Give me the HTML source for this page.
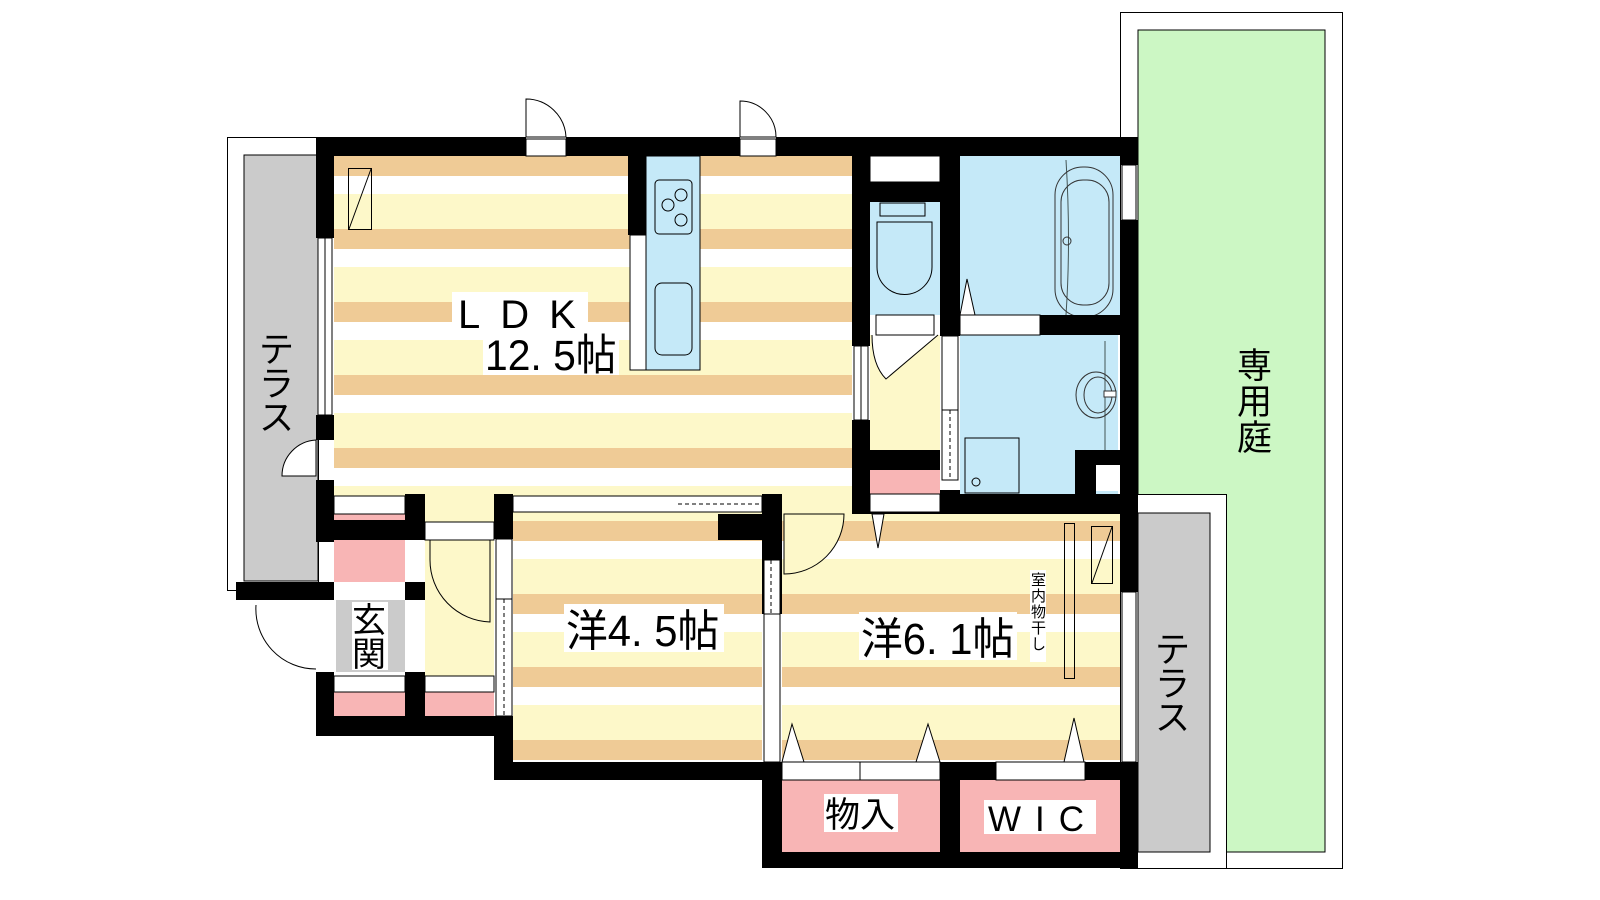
<!DOCTYPE html>
<html><head><meta charset="utf-8"><style>
html,body{margin:0;padding:0;background:#fff;width:1600px;height:900px;overflow:hidden}
text{font-family:"Liberation Sans","Noto Sans CJK JP",sans-serif;fill:#000}
</style></head><body>
<svg width="1600" height="900" viewBox="0 0 1600 900" xmlns="http://www.w3.org/2000/svg">
<defs>
<pattern id="st" patternUnits="userSpaceOnUse" x="0" y="156" width="10" height="73">
<rect width="10" height="73" fill="#fdf8c9"/>
<rect width="10" height="20" fill="#efcb96"/>
<rect y="20" width="10" height="18" fill="#fff"/>
</pattern>
</defs>
<rect x="1120.5" y="12.5" width="222" height="856" fill="#fff" stroke="#000"/>
<rect x="1138" y="30" width="187" height="822" fill="#ccf7c4" stroke="#000"/>
<rect x="1120.5" y="494.5" width="106" height="374" fill="#fff" stroke="#000"/>
<rect x="1138" y="513" width="72" height="339" fill="#cbcbcb" stroke="#000"/>
<rect x="227.5" y="137.5" width="91" height="453" fill="#fff" stroke="#000"/>
<rect x="244" y="155" width="74" height="426" fill="#cbcbcb" stroke="#000"/>
<rect x="334" y="156" width="518" height="364" fill="url(#st)"/>
<rect x="513" y="514" width="249" height="248" fill="url(#st)"/>
<rect x="782" y="514" width="338" height="248" fill="url(#st)"/>
<rect x="870" y="335" width="70" height="115" fill="#fdf8c9"/>
<rect x="425" y="520" width="69" height="196" fill="#fdf8c9"/>
<rect x="870" y="470" width="70" height="24" fill="#f8b5b5"/>
<rect x="334" y="540" width="71" height="42" fill="#f8b5b5"/>
<rect x="334" y="692" width="71" height="24" fill="#f8b5b5"/>
<rect x="425" y="692" width="69" height="24" fill="#f8b5b5"/>
<rect x="334" y="514" width="71" height="8" fill="#f8b5b5"/>
<rect x="336" y="600" width="69" height="72" fill="#cbcbcb"/>
<rect x="782" y="780" width="158" height="72" fill="#f8b5b5"/>
<rect x="960" y="780" width="160" height="72" fill="#f8b5b5"/>
<rect x="870" y="202" width="70" height="113" fill="#c5e9f8"/>
<rect x="960" y="156" width="160" height="159" fill="#c5e9f8"/>
<rect x="960" y="335" width="158" height="159" fill="#c5e9f8"/>
<rect x="646" y="156" width="54" height="214" fill="#c5e9f8" stroke="#000"/>
<rect x="630" y="235" width="16" height="135" fill="#fff" stroke="#000"/>
<rect x="655" y="180" width="37" height="54" rx="4" fill="none" stroke="#000"/>
<circle cx="668" cy="205" r="6" fill="none" stroke="#000"/>
<circle cx="681" cy="195" r="6" fill="none" stroke="#000"/>
<circle cx="681" cy="220" r="6" fill="none" stroke="#000"/>
<rect x="655" y="283" width="37" height="72" rx="7" fill="none" stroke="#000"/>
<rect x="348.5" y="168.5" width="23" height="61" fill="none" stroke="#000"/>
<line x1="349" y1="229" x2="371" y2="169" stroke="#000"/>
<path d="M880 203h45v13h-45z" fill="none" stroke="#000"/>
<path d="M877 222h55v45a27 27 0 0 1 -55 0z" fill="none" stroke="#000"/>
<path d="M1066 160 q5 80 0 155" fill="none" stroke="#455"/>
<rect x="1055" y="167" width="58" height="150" rx="28" fill="none" stroke="#333"/>
<rect x="1061" y="180" width="48" height="125" rx="22" fill="none" stroke="#333"/>
<circle cx="1067" cy="241" r="4" fill="none" stroke="#333"/>
<path d="M960 315 l7 -36 l8 36z" fill="#fff" stroke="#000"/>
<line x1="1105" y1="341" x2="1105" y2="460" stroke="#455"/>
<ellipse cx="1096" cy="395" rx="20" ry="23" fill="none" stroke="#333"/>
<ellipse cx="1098" cy="395" rx="14" ry="18" fill="none" stroke="#333"/>
<rect x="1104" y="391" width="12" height="6" fill="#fff" stroke="#333"/>
<rect x="965" y="438" width="54" height="55" fill="none" stroke="#000"/>
<circle cx="976" cy="482" r="4" fill="none" stroke="#000"/>
<rect x="1096" y="465" width="22" height="26" fill="#fff"/>
<path d="M872 335 q0 30 14 44 l52 -44" fill="#fff" stroke="#000"/>
<g fill="#000">
<rect x="316" y="137" width="210" height="19"/>
<rect x="566" y="137" width="174" height="19"/>
<rect x="776" y="137" width="362" height="19"/>
<rect x="316" y="137" width="18" height="101"/>
<rect x="316" y="415" width="18" height="25"/>
<rect x="316" y="480" width="18" height="62"/>
<rect x="236" y="582" width="98" height="18"/>
<rect x="316" y="672" width="18" height="64"/>
<rect x="316" y="716" width="197" height="20"/>
<rect x="316" y="520" width="109" height="20"/>
<rect x="405" y="494" width="20" height="46"/>
<rect x="405" y="582" width="20" height="18"/>
<rect x="405" y="672" width="20" height="48"/>
<rect x="494" y="494" width="19" height="45"/>
<rect x="494" y="716" width="19" height="64"/>
<rect x="494" y="762" width="288" height="18"/>
<rect x="762" y="494" width="20" height="120"/>
<rect x="718" y="514" width="44" height="26"/>
<rect x="762" y="494" width="20" height="20"/>
<rect x="762" y="762" width="20" height="106"/>
<rect x="762" y="852" width="376" height="16"/>
<rect x="940" y="762" width="20" height="106"/>
<rect x="960" y="762" width="36" height="18"/>
<rect x="1085" y="762" width="53" height="18"/>
<rect x="628" y="156" width="18" height="79"/>
<rect x="852" y="156" width="18" height="190"/>
<rect x="852" y="420" width="18" height="94"/>
<rect x="852" y="494" width="286" height="20"/>
<rect x="870" y="182" width="70" height="20"/>
<rect x="940" y="156" width="20" height="180"/>
<rect x="1040" y="315" width="80" height="20"/>
<rect x="870" y="450" width="70" height="20"/>
<rect x="940" y="490" width="20" height="24"/>
<rect x="1075" y="450" width="45" height="15"/>
<rect x="1075" y="450" width="21" height="44"/>
<rect x="1120" y="137" width="18" height="28"/>
<rect x="1120" y="220" width="18" height="372"/>
<rect x="1120" y="762" width="18" height="106"/>
</g>
<g fill="#fff" stroke="#000">
<rect x="870" y="156" width="70" height="26"/>
<rect x="876" y="315" width="58" height="20"/>
<rect x="960" y="315" width="80" height="20"/>
<rect x="854" y="346" width="14" height="74"/>
<rect x="942" y="336" width="16" height="74"/>
<rect x="942" y="410" width="16" height="70"/>
<rect x="1122" y="165" width="14" height="55"/>
<rect x="318" y="238" width="14" height="177"/>
<rect x="334" y="496" width="71" height="18"/>
<rect x="513" y="496" width="249" height="16"/>
<rect x="425" y="522" width="69" height="18"/>
<rect x="334" y="676" width="71" height="16"/>
<rect x="425" y="676" width="69" height="16"/>
<rect x="496" y="539" width="16" height="60"/>
<rect x="496" y="599" width="16" height="117"/>
<rect x="764" y="614" width="16" height="148"/>
<rect x="764" y="560" width="16" height="54"/>
<rect x="782" y="762" width="158" height="18"/>
<rect x="996" y="762" width="89" height="18"/>
<rect x="1122" y="592" width="14" height="170"/>
<rect x="526" y="139" width="40" height="17"/>
<rect x="740" y="139" width="36" height="17"/>
<rect x="870" y="494" width="70" height="18"/>
</g>
<line x1="861" y1="346" x2="861" y2="420" stroke="#000"/>
<line x1="325" y1="238" x2="325" y2="415" stroke="#000"/>
<line x1="950" y1="410" x2="950" y2="480" stroke="#000" stroke-dasharray="4,3"/>
<line x1="504" y1="599" x2="504" y2="716" stroke="#000" stroke-dasharray="4,3"/>
<line x1="771" y1="560" x2="771" y2="614" stroke="#000" stroke-dasharray="4,3"/>
<line x1="678" y1="504" x2="762" y2="504" stroke="#000" stroke-dasharray="4,3"/>
<line x1="860" y1="762" x2="860" y2="780" stroke="#000"/>
<g fill="#fff" stroke="#000">
<path d="M526 137 v-38 a40 40 0 0 1 40 38z"/>
<path d="M740 137 v-36 a36 36 0 0 1 36 36z"/>
<path d="M316 440 a36 36 0 0 0 -34 36 h34z"/>
<path d="M256 605 a60 60 0 0 0 60 64" fill="none"/>
<path d="M430 540 v20 a62 62 0 0 0 60 62 v-82z" fill="#fdf8c9"/>
<path d="M784 514 v60 a60 60 0 0 0 60 -60z" fill="#fdf8c9"/>
<path d="M872 514 l6 34 l6 -34z"/>
<path d="M782 762 l10 -38 l12 38z"/>
<path d="M916 762 l12 -38 l12 38z"/>
<path d="M1064 762 l10 -44 l10 44z"/>
</g>
<rect x="1064.5" y="523.5" width="10" height="155" fill="none" stroke="#000"/>
<rect x="1091.5" y="526.5" width="21" height="57" fill="none" stroke="#000"/>
<line x1="1092" y1="583" x2="1112" y2="527" stroke="#000"/>
<rect x="452" y="292" width="136" height="42" fill="#fff"/>
<text x="458" y="328" font-size="40" letter-spacing="20">LDK</text>
<rect x="483" y="333" width="136" height="42" fill="#fff"/>
<text x="485" y="370" font-size="43" transform="scale(0.95,1)" transform-origin="485 370">12. 5帖</text>
<rect x="564" y="604" width="160" height="48" fill="#fff"/>
<text x="566" y="646" font-size="44" transform="scale(0.95,1)" transform-origin="566 646">洋4. 5帖</text>
<rect x="859" y="612" width="158" height="48" fill="#fff"/>
<text x="861" y="654" font-size="44" transform="scale(0.95,1)" transform-origin="861 654">洋6. 1帖</text>
<g font-size="15">
<rect x="1030" y="570" width="16" height="92" fill="#fff"/>
<text x="1031" y="585">室</text><text x="1031" y="601">内</text><text x="1031" y="617">物</text><text x="1031" y="633">干</text><text x="1031" y="649">し</text>
</g>
<rect x="352" y="602" width="36" height="68" fill="#fff"/>
<text x="352" y="632" font-size="34">玄</text>
<text x="352" y="666" font-size="34">関</text>
<rect x="824" y="794" width="74" height="38" fill="#fff"/>
<text x="825" y="827" font-size="35">物入</text>
<rect x="984" y="800" width="112" height="34" fill="#fff"/>
<text x="988" y="831" font-size="35" letter-spacing="14">WIC</text>
<g font-size="35">
<text x="259" y="362">テ</text><text x="259" y="396">ラ</text><text x="259" y="430">ス</text>
<text x="1155" y="662">テ</text><text x="1155" y="696">ラ</text><text x="1155" y="730">ス</text>
<text x="1237" y="378">専</text><text x="1237" y="414">用</text><text x="1237" y="450">庭</text>
</g>
</svg>
</body></html>
